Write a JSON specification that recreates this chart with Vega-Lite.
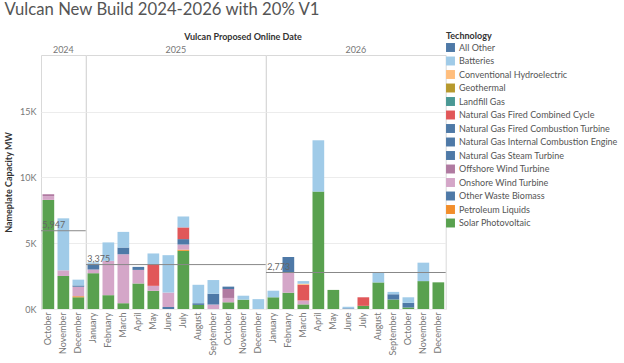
{
"$schema": "https://vega.github.io/schema/vega-lite/v6.json",
"title": {"text": "Vulcan New Build 2024-2026 with 20% V1", "anchor": "start", "frame": "bounds", "fontSize": 16.7, "font": "Lato", "fontWeight": "normal", "color": "#555555", "offset": 13},
"padding": {"left": 4, "top": 2, "right": 2, "bottom": 2},
"bounds": "flush",
"config": {"font": "Lato", "view": {"stroke": "#d9d9d9"}, "facet": {"spacing": 0}},
"data": {"values": [
{"Year":"2024","Month":"October","M":10,"Technology":"Solar Photovoltaic","MW":8290},
{"Year":"2024","Month":"October","M":10,"Technology":"Onshore Wind Turbine","MW":280},
{"Year":"2024","Month":"October","M":10,"Technology":"Offshore Wind Turbine","MW":150},
{"Year":"2024","Month":"November","M":11,"Technology":"Solar Photovoltaic","MW":2510},
{"Year":"2024","Month":"November","M":11,"Technology":"Onshore Wind Turbine","MW":430},
{"Year":"2024","Month":"November","M":11,"Technology":"Batteries","MW":3950},
{"Year":"2024","Month":"December","M":12,"Technology":"Solar Photovoltaic","MW":890},
{"Year":"2024","Month":"December","M":12,"Technology":"Petroleum Liquids","MW":80},
{"Year":"2024","Month":"December","M":12,"Technology":"Onshore Wind Turbine","MW":720},
{"Year":"2024","Month":"December","M":12,"Technology":"Natural Gas Fired Combustion Turbine","MW":100},
{"Year":"2024","Month":"December","M":12,"Technology":"Batteries","MW":440},
{"Year":"2025","Month":"January","M":1,"Technology":"Solar Photovoltaic","MW":2720},
{"Year":"2025","Month":"January","M":1,"Technology":"Onshore Wind Turbine","MW":280},
{"Year":"2025","Month":"January","M":1,"Technology":"Natural Gas Fired Combustion Turbine","MW":440},
{"Year":"2025","Month":"January","M":1,"Technology":"Batteries","MW":100},
{"Year":"2025","Month":"February","M":2,"Technology":"Solar Photovoltaic","MW":1050},
{"Year":"2025","Month":"February","M":2,"Technology":"Onshore Wind Turbine","MW":2610},
{"Year":"2025","Month":"February","M":2,"Technology":"Batteries","MW":1400},
{"Year":"2025","Month":"March","M":3,"Technology":"Solar Photovoltaic","MW":440},
{"Year":"2025","Month":"March","M":3,"Technology":"Onshore Wind Turbine","MW":3720},
{"Year":"2025","Month":"March","M":3,"Technology":"Natural Gas Fired Combustion Turbine","MW":510},
{"Year":"2025","Month":"March","M":3,"Technology":"Batteries","MW":1190},
{"Year":"2025","Month":"April","M":4,"Technology":"Solar Photovoltaic","MW":1940},
{"Year":"2025","Month":"April","M":4,"Technology":"Onshore Wind Turbine","MW":1030},
{"Year":"2025","Month":"April","M":4,"Technology":"Natural Gas Fired Combustion Turbine","MW":230},
{"Year":"2025","Month":"May","M":5,"Technology":"Solar Photovoltaic","MW":1380},
{"Year":"2025","Month":"May","M":5,"Technology":"Onshore Wind Turbine","MW":380},
{"Year":"2025","Month":"May","M":5,"Technology":"Natural Gas Fired Combined Cycle","MW":1650},
{"Year":"2025","Month":"May","M":5,"Technology":"Batteries","MW":810},
{"Year":"2025","Month":"June","M":6,"Technology":"Other Waste Biomass","MW":150},
{"Year":"2025","Month":"June","M":6,"Technology":"Onshore Wind Turbine","MW":1100},
{"Year":"2025","Month":"June","M":6,"Technology":"Batteries","MW":2840},
{"Year":"2025","Month":"July","M":7,"Technology":"Solar Photovoltaic","MW":4420},
{"Year":"2025","Month":"July","M":7,"Technology":"Petroleum Liquids","MW":90},
{"Year":"2025","Month":"July","M":7,"Technology":"Onshore Wind Turbine","MW":390},
{"Year":"2025","Month":"July","M":7,"Technology":"Natural Gas Fired Combustion Turbine","MW":410},
{"Year":"2025","Month":"July","M":7,"Technology":"Natural Gas Fired Combined Cycle","MW":890},
{"Year":"2025","Month":"July","M":7,"Technology":"Batteries","MW":830},
{"Year":"2025","Month":"August","M":8,"Technology":"Solar Photovoltaic","MW":310},
{"Year":"2025","Month":"August","M":8,"Technology":"Natural Gas Fired Combustion Turbine","MW":130},
{"Year":"2025","Month":"August","M":8,"Technology":"Batteries","MW":1400},
{"Year":"2025","Month":"September","M":9,"Technology":"Onshore Wind Turbine","MW":340},
{"Year":"2025","Month":"September","M":9,"Technology":"Natural Gas Fired Combustion Turbine","MW":820},
{"Year":"2025","Month":"September","M":9,"Technology":"Batteries","MW":1040},
{"Year":"2025","Month":"October","M":10,"Technology":"Solar Photovoltaic","MW":510},
{"Year":"2025","Month":"October","M":10,"Technology":"Onshore Wind Turbine","MW":330},
{"Year":"2025","Month":"October","M":10,"Technology":"Offshore Wind Turbine","MW":680},
{"Year":"2025","Month":"October","M":10,"Technology":"Natural Gas Fired Combustion Turbine","MW":180},
{"Year":"2025","Month":"November","M":11,"Technology":"Solar Photovoltaic","MW":710},
{"Year":"2025","Month":"November","M":11,"Technology":"Batteries","MW":300},
{"Year":"2025","Month":"December","M":12,"Technology":"Batteries","MW":750},
{"Year":"2026","Month":"January","M":1,"Technology":"Solar Photovoltaic","MW":890},
{"Year":"2026","Month":"January","M":1,"Technology":"Batteries","MW":500},
{"Year":"2026","Month":"February","M":2,"Technology":"Solar Photovoltaic","MW":1240},
{"Year":"2026","Month":"February","M":2,"Technology":"Onshore Wind Turbine","MW":1570},
{"Year":"2026","Month":"February","M":2,"Technology":"Natural Gas Fired Combustion Turbine","MW":1140},
{"Year":"2026","Month":"March","M":3,"Technology":"Solar Photovoltaic","MW":350},
{"Year":"2026","Month":"March","M":3,"Technology":"Onshore Wind Turbine","MW":300},
{"Year":"2026","Month":"March","M":3,"Technology":"Natural Gas Fired Combined Cycle","MW":1190},
{"Year":"2026","Month":"March","M":3,"Technology":"Conventional Hydroelectric","MW":80},
{"Year":"2026","Month":"March","M":3,"Technology":"Batteries","MW":200},
{"Year":"2026","Month":"April","M":4,"Technology":"Solar Photovoltaic","MW":8920},
{"Year":"2026","Month":"April","M":4,"Technology":"Batteries","MW":3900},
{"Year":"2026","Month":"May","M":5,"Technology":"Solar Photovoltaic","MW":1450},
{"Year":"2026","Month":"June","M":6,"Technology":"Natural Gas Fired Combustion Turbine","MW":50},
{"Year":"2026","Month":"June","M":6,"Technology":"Batteries","MW":120},
{"Year":"2026","Month":"July","M":7,"Technology":"Solar Photovoltaic","MW":240},
{"Year":"2026","Month":"July","M":7,"Technology":"Natural Gas Fired Combined Cycle","MW":650},
{"Year":"2026","Month":"August","M":8,"Technology":"Solar Photovoltaic","MW":2020},
{"Year":"2026","Month":"August","M":8,"Technology":"Batteries","MW":730},
{"Year":"2026","Month":"September","M":9,"Technology":"Solar Photovoltaic","MW":720},
{"Year":"2026","Month":"September","M":9,"Technology":"Natural Gas Fired Combustion Turbine","MW":400},
{"Year":"2026","Month":"September","M":9,"Technology":"Batteries","MW":180},
{"Year":"2026","Month":"October","M":10,"Technology":"Solar Photovoltaic","MW":120},
{"Year":"2026","Month":"October","M":10,"Technology":"Natural Gas Fired Combustion Turbine","MW":350},
{"Year":"2026","Month":"October","M":10,"Technology":"Batteries","MW":420},
{"Year":"2026","Month":"November","M":11,"Technology":"Solar Photovoltaic","MW":2120},
{"Year":"2026","Month":"November","M":11,"Technology":"Batteries","MW":1400},
{"Year":"2026","Month":"December","M":12,"Technology":"Solar Photovoltaic","MW":2026}
]},
"facet": {"column": {"field": "Year", "type": "ordinal", "title": "Vulcan Proposed Online Date",
  "header": {"titleFontSize": 9, "titleFontWeight": "bold", "titleColor": "#333333", "titleFont": "Lato", "labelFont": "Lato", "labelFontSize": 9, "labelColor": "#777777", "titlePadding": -6, "labelPadding": 0}}},
"spec": {
  "width": {"step": 15},
  "height": 254,
  "layer": [
    {"mark": {"type": "bar"},
     "encoding": {
       "x": {"field": "Month", "type": "nominal", "sort": ["January","February","March","April","May","June","July","August","September","October","November","December"],
             "scale": {"paddingInner": 0.22, "paddingOuter": 0.1},
             "axis": {"title": null, "labelAngle": -90, "labelFontSize": 9, "labelColor": "#777777", "ticks": false, "domain": false, "labelPadding": 3}},
       "y": {"field": "MW", "type": "quantitative", "stack": "zero",
             "scale": {"domain": [0, 19300], "nice": false},
             "axis": {"title": "Nameplate Capacity MW", "titleFontSize": 9, "titleFontWeight": "bold", "titleColor": "#333333", "labelFontSize": 9, "labelColor": "#777777", "values": [0, 5000, 10000, 15000], "labelExpr": "(datum.value/1000) + 'K'", "domain": false, "ticks": false, "grid": true, "gridColor": "#ececec", "labelPadding": 5, "titlePadding": 6}},
       "color": {"field": "Technology", "type": "nominal",
         "scale": {"domain": ["All Other","Batteries","Conventional Hydroelectric","Geothermal","Landfill Gas","Natural Gas Fired Combined Cycle","Natural Gas Fired Combustion Turbine","Natural Gas Internal Combustion Engine","Natural Gas Steam Turbine","Offshore Wind Turbine","Onshore Wind Turbine","Other Waste Biomass","Petroleum Liquids","Solar Photovoltaic"],
                   "range": ["#4e79a7","#a0cbe8","#ffbe7d","#b6992d","#499894","#e15759","#4e79a7","#4e79a7","#4e79a7","#b07aa1","#d4a6c8","#4e79a7","#f28e2b","#59a14f"]},
         "legend": {"orient": "none", "legendX": 405, "legendY": -23, "title": "Technology", "titleFontSize": 9, "titleFontWeight": "bold", "titleColor": "#333333", "titlePadding": 2, "labelFontSize": 9, "labelColor": "#555555", "symbolType": "square", "symbolSize": 80, "symbolStrokeWidth": 0, "symbolOpacity": 1, "rowPadding": 3.5, "labelLimit": 200}},
       "order": {"field": "Technology", "sort": "descending"}
     }},
    {"transform": [
       {"aggregate": [{"op": "sum", "field": "MW", "as": "total"}], "groupby": ["Year", "Month"]},
       {"aggregate": [{"op": "mean", "field": "total", "as": "avg"}], "groupby": ["Year"]}],
     "mark": {"type": "rule", "color": "#888888", "strokeWidth": 1},
     "encoding": {"y": {"field": "avg", "type": "quantitative"}}},
    {"transform": [
       {"aggregate": [{"op": "sum", "field": "MW", "as": "total"}, {"op": "min", "field": "M", "as": "M"}], "groupby": ["Year", "Month"]},
       {"joinaggregate": [{"op": "mean", "field": "total", "as": "avg"}, {"op": "min", "field": "M", "as": "minM"}], "groupby": ["Year"]},
       {"filter": "datum.M == datum.minM"}],
     "mark": {"type": "text", "align": "left", "baseline": "bottom", "dx": -6, "dy": -1, "fontSize": 9, "color": "#666666"},
     "encoding": {
       "x": {"field": "Month", "type": "nominal", "sort": ["January","February","March","April","May","June","July","August","September","October","November","December"]},
       "y": {"field": "avg", "type": "quantitative"},
       "text": {"field": "avg", "type": "quantitative", "format": ",.0f"}}}
  ]
},
"resolve": {"scale": {"x": "independent"}}
}
